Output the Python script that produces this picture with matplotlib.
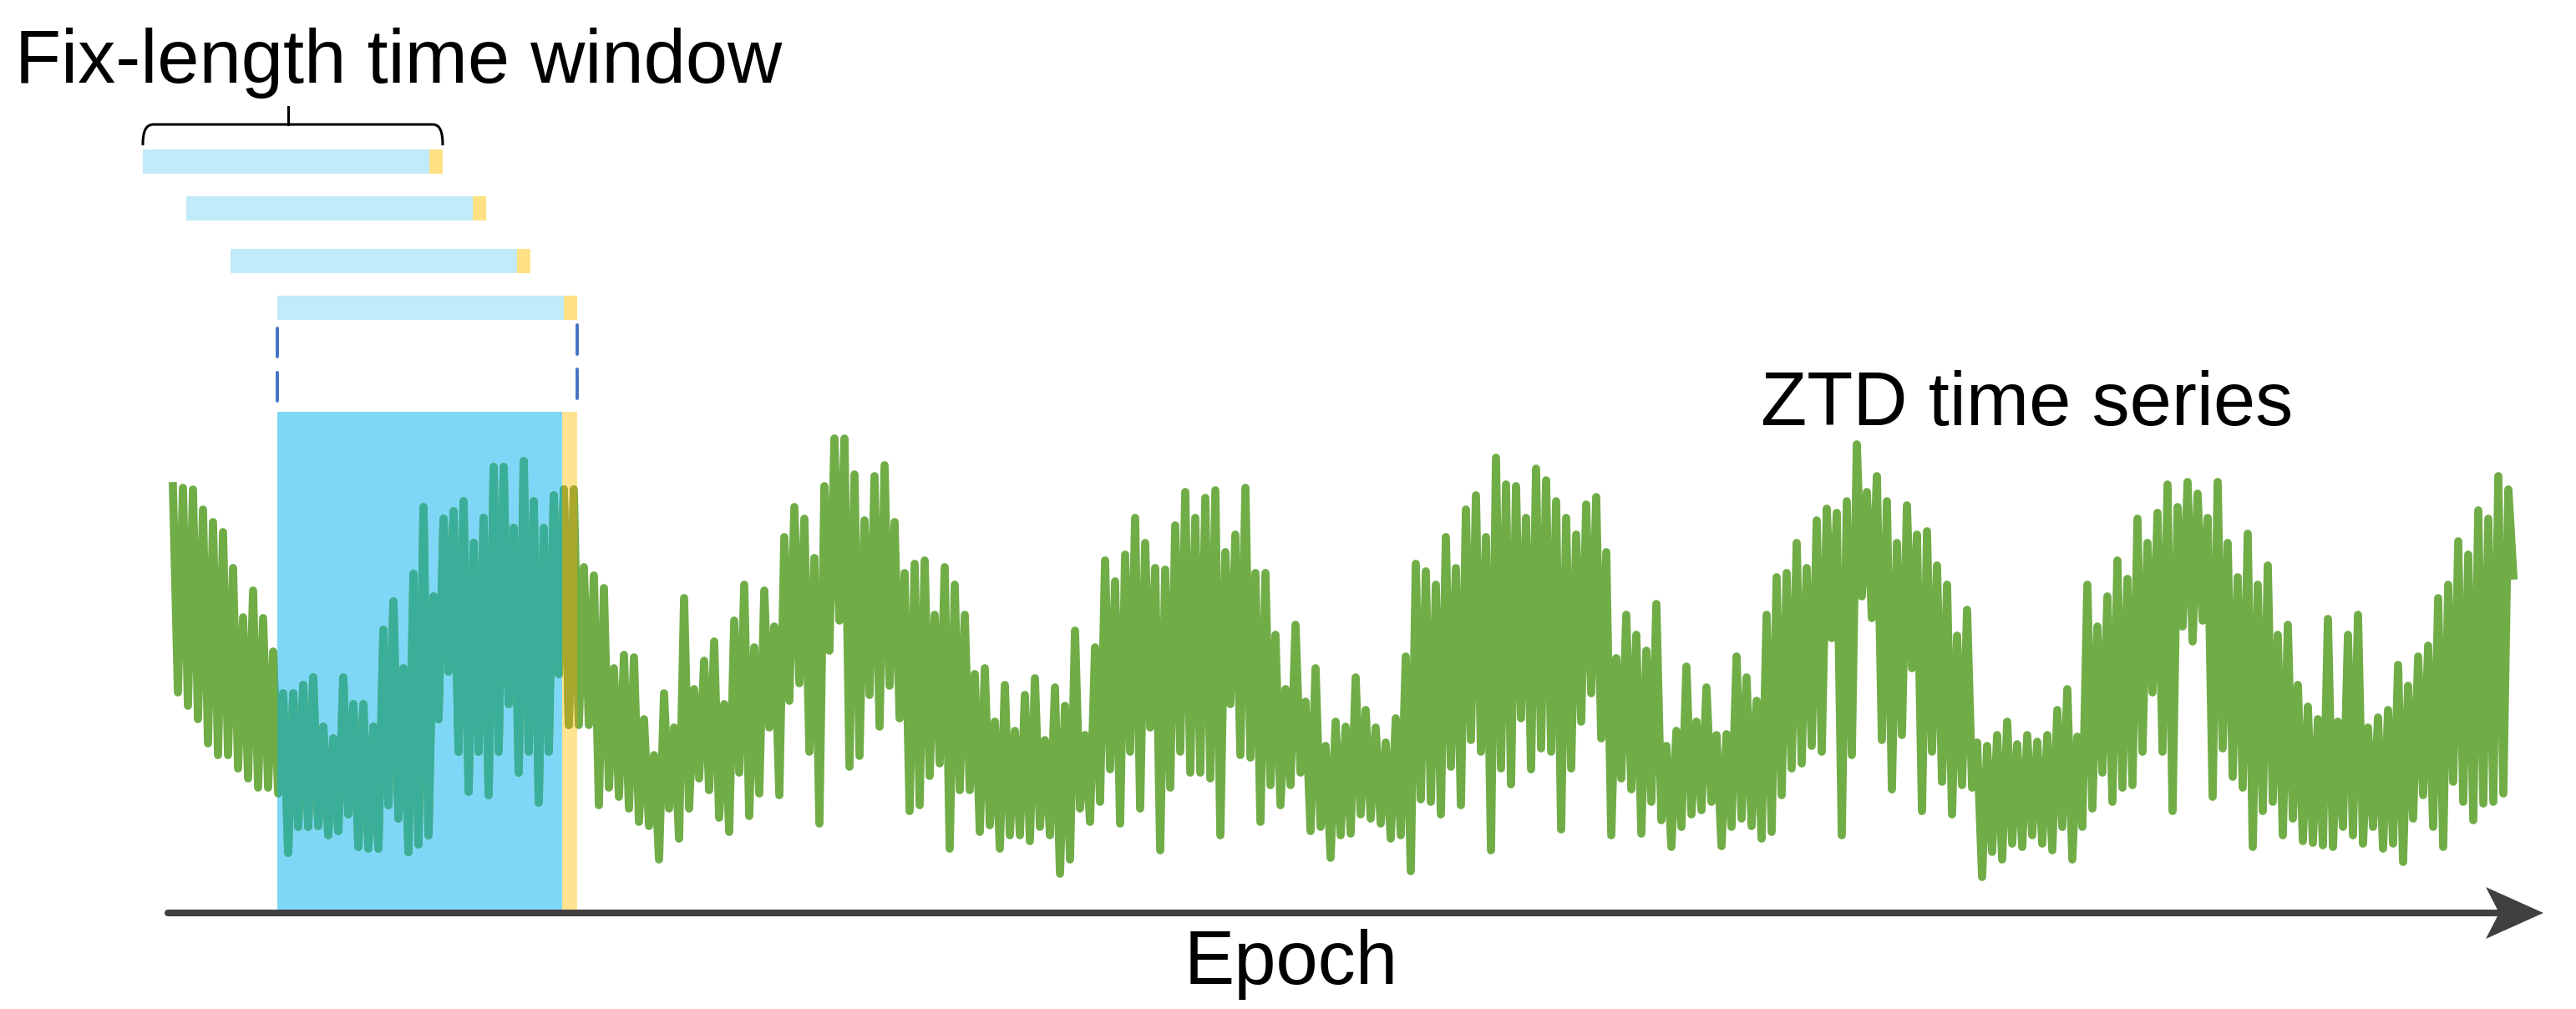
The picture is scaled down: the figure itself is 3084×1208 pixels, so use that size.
import numpy as np
import matplotlib
matplotlib.use('Agg')
import matplotlib.pyplot as plt
from matplotlib.patches import Rectangle, Polygon, PathPatch
from matplotlib.path import Path

# ZTD series: upper and lower spike tips per epoch
ztd_hi = [518, 516, 514, 490, 475, 463, 420, 361, 393, 360,
          320, 270, 270, 280, 289, 230, 216, 289, 257, 257,
          230, 346, 380, 300, 413, 493, 386, 479, 488, 500,
          450, 480, 541, 541, 468, 548, 500, 468, 507, 514,
          514, 421, 411, 396, 300, 316, 313, 239, 196, 270,
          229, 384, 275, 309, 332, 257, 357, 400, 325, 393,
          350, 457, 493, 479, 432, 518, 575, 575, 532, 477,
          530, 543, 475, 414, 425, 429, 364, 421, 400, 364,
          293, 300, 236, 280, 225, 268, 288, 214, 277, 255,
          345, 220, 325, 429, 404, 436, 480, 450, 420, 418,
          471, 511, 480, 504, 513, 439, 460, 516, 414, 414,
          340, 275, 352, 260, 300, 207, 236, 230, 289, 250,
          229, 211, 240, 314, 425, 416, 400, 457, 420, 490,
          507, 457, 552, 520, 518, 480, 539, 525, 500, 480,
          460, 496, 505, 439, 312, 364, 340, 321, 377, 207,
          225, 302, 236, 277, 220, 221, 314, 289, 261, 364,
          409, 414, 450, 420, 477, 491, 486, 500, 568, 511,
          530, 500, 450, 495, 460, 464, 423, 400, 339, 370,
          211, 207, 220, 236, 209, 220, 212, 220, 250, 275,
          218, 400, 350, 386, 429, 407, 479, 450, 486, 520,
          493, 523, 509, 480, 523, 450, 409, 461, 400, 423,
          340, 352, 280, 254, 239, 359, 236, 340, 364, 229,
          241, 250, 304, 279, 314, 327, 384, 400, 452, 436,
          489, 479, 530, 514]
ztd_lo = [271, 255, 239, 210, 196, 196, 180, 168, 157, 157,
          150, 79, 110, 110, 111, 100, 105, 125, 86, 84,
          84, 136, 120, 80, 89, 100, 239, 296, 200, 152,
          200, 148, 200, 257, 175, 200, 139, 200, 293, 232,
          232, 232, 136, 157, 146, 132, 116, 111, 71, 132,
          96, 132, 168, 154, 121, 104, 175, 123, 150, 229,
          148, 261, 282, 200, 114, 321, 357, 182, 195, 268,
          230, 279, 240, 129, 136, 171, 186, 84, 154, 154,
          104, 112, 84, 100, 100, 93, 110, 100, 54, 71,
          132, 116, 140, 179, 114, 200, 132, 229, 82, 157,
          200, 175, 175, 168, 100, 257, 196, 193, 116, 160,
          136, 160, 175, 105, 110, 73, 100, 102, 125, 120,
          114, 96, 100, 57, 143, 140, 125, 182, 136, 214,
          200, 82, 180, 161, 240, 179, 204, 200, 107, 180,
          236, 270, 216, 100, 168, 155, 102, 140, 118, 86,
          110, 125, 130, 140, 87, 110, 120, 111, 96, 104,
          148, 180, 186, 207, 200, 336, 100, 196, 386, 360,
          214, 155, 220, 300, 129, 200, 164, 125, 160, 157,
          50, 80, 71, 90, 86, 100, 90, 82, 110, 71,
          110, 132, 175, 140, 157, 160, 200, 271, 200, 129,
          350, 332, 357, 146, 204, 170, 157, 86, 129, 140,
          100, 120, 93, 91, 88, 86, 110, 100, 90, 110,
          84, 90, 68, 120, 148, 110, 86, 164, 140, 118,
          138, 140, 150, 411]

title_text = 'Fix-length time window'
series_text = 'ZTD time series'
axis_text = 'Epoch'

# colores
c_green = '#70AD47'
c_teal = '#3AAE98'
c_olive = '#A9A72C'
c_blue = '#7FD7F7'
c_blue_light = '#C2EBFA'
c_yellow = '#FFE083'
c_yellow_big = '#FFE390'
c_dash = '#4472C4'
c_axis = '#404040'
fuentes = ['Liberation Sans', 'DejaVu Sans']

W, H = 3084, 1208
fig = plt.figure(figsize=(W / 100, H / 100), dpi=100)

# ejes del esquema en pixeles
ax = fig.add_axes([0, 0, 1, 1])
ax.set_xlim(0, W)
ax.set_ylim(H, 0)
ax.axis('off')

# ventanas deslizantes (barras de arriba)
bar_left = [171, 223, 276, 332]
bar_top = [179, 235, 298, 354]
bar_w, bar_h, tip_w = 343, 29, 16
for xl, yt in zip(bar_left, bar_top):
    ax.add_patch(Rectangle((xl, yt), bar_w, bar_h, color=c_blue_light, lw=0))
    ax.add_patch(Rectangle((xl + bar_w, yt), tip_w, bar_h, color=c_yellow, lw=0))

# llave sobre la primera ventana
llave = Path([(171, 174), (171, 158), (174, 149), (184, 149), (518, 149),
              (527, 149), (530, 158), (530, 174)],
             [Path.MOVETO, Path.CURVE4, Path.CURVE4, Path.CURVE4, Path.LINETO,
              Path.CURVE4, Path.CURVE4, Path.CURVE4])
ax.add_patch(PathPatch(llave, fill=False, lw=2.2, ec='black'))
ax.plot([345, 345], [128, 149], color='black', lw=2.2)

# lineas punteadas
for xd, tramos in [(332, [(393, 427), (446, 480)]), (691, [(389, 424), (442, 477)])]:
    for y1, y2 in tramos:
        ax.plot([xd, xd], [y1, y2], color=c_dash, lw=2.8, solid_capstyle='round')

# ventana grande
win_x, win_w, win_y, win_h = 332, 341, 493, 597
rect_blue = Rectangle((win_x, win_y), win_w, win_h, color=c_blue, lw=0, zorder=1)
rect_yel = Rectangle((win_x + win_w, win_y), 18, win_h, color=c_yellow_big, lw=0, zorder=1)
ax.add_patch(rect_blue)
ax.add_patch(rect_yel)

# eje Epoch con flecha
ax.plot([201, 2995], [1093, 1093], color=c_axis, lw=5.8, solid_capstyle='round', zorder=3)
ax.add_patch(Polygon([(3045, 1093), (2976, 1062), (2992, 1093), (2976, 1124)],
                     closed=True, color=c_axis, lw=0, zorder=3))

# textos
ax.text(18, 99, title_text, fontsize=65, family=fuentes, ha='left', va='baseline')
ax.text(2108, 509, series_text, fontsize=65, family=fuentes, ha='left', va='baseline')
ax.text(1546, 1178, axis_text, fontsize=65, family=fuentes, ha='center', va='baseline')

# serie ZTD en sus propios ejes
x0_px, step_px, base_px = 207, 12, 1100
ax_ts = fig.add_axes([0, 0, 1, 1], facecolor='none')
ax_ts.set_xlim(-x0_px / step_px, (W - x0_px) / step_px)
ax_ts.set_ylim(base_px - H, base_px)
ax_ts.axis('off')

n = len(ztd_hi)
epochs = np.column_stack((np.arange(n), np.arange(n) + 0.5)).ravel()
ztd = np.column_stack((ztd_hi, ztd_lo)).ravel()

grosor = 7
ax_ts.plot(epochs, ztd, color=c_green, lw=grosor)
l_teal, = ax_ts.plot(epochs, ztd, color=c_teal, lw=grosor)
l_teal.set_clip_path(rect_blue)
l_olive, = ax_ts.plot(epochs, ztd, color=c_olive, lw=grosor)
l_olive.set_clip_path(rect_yel)

fig.savefig('out.png', dpi=100)
